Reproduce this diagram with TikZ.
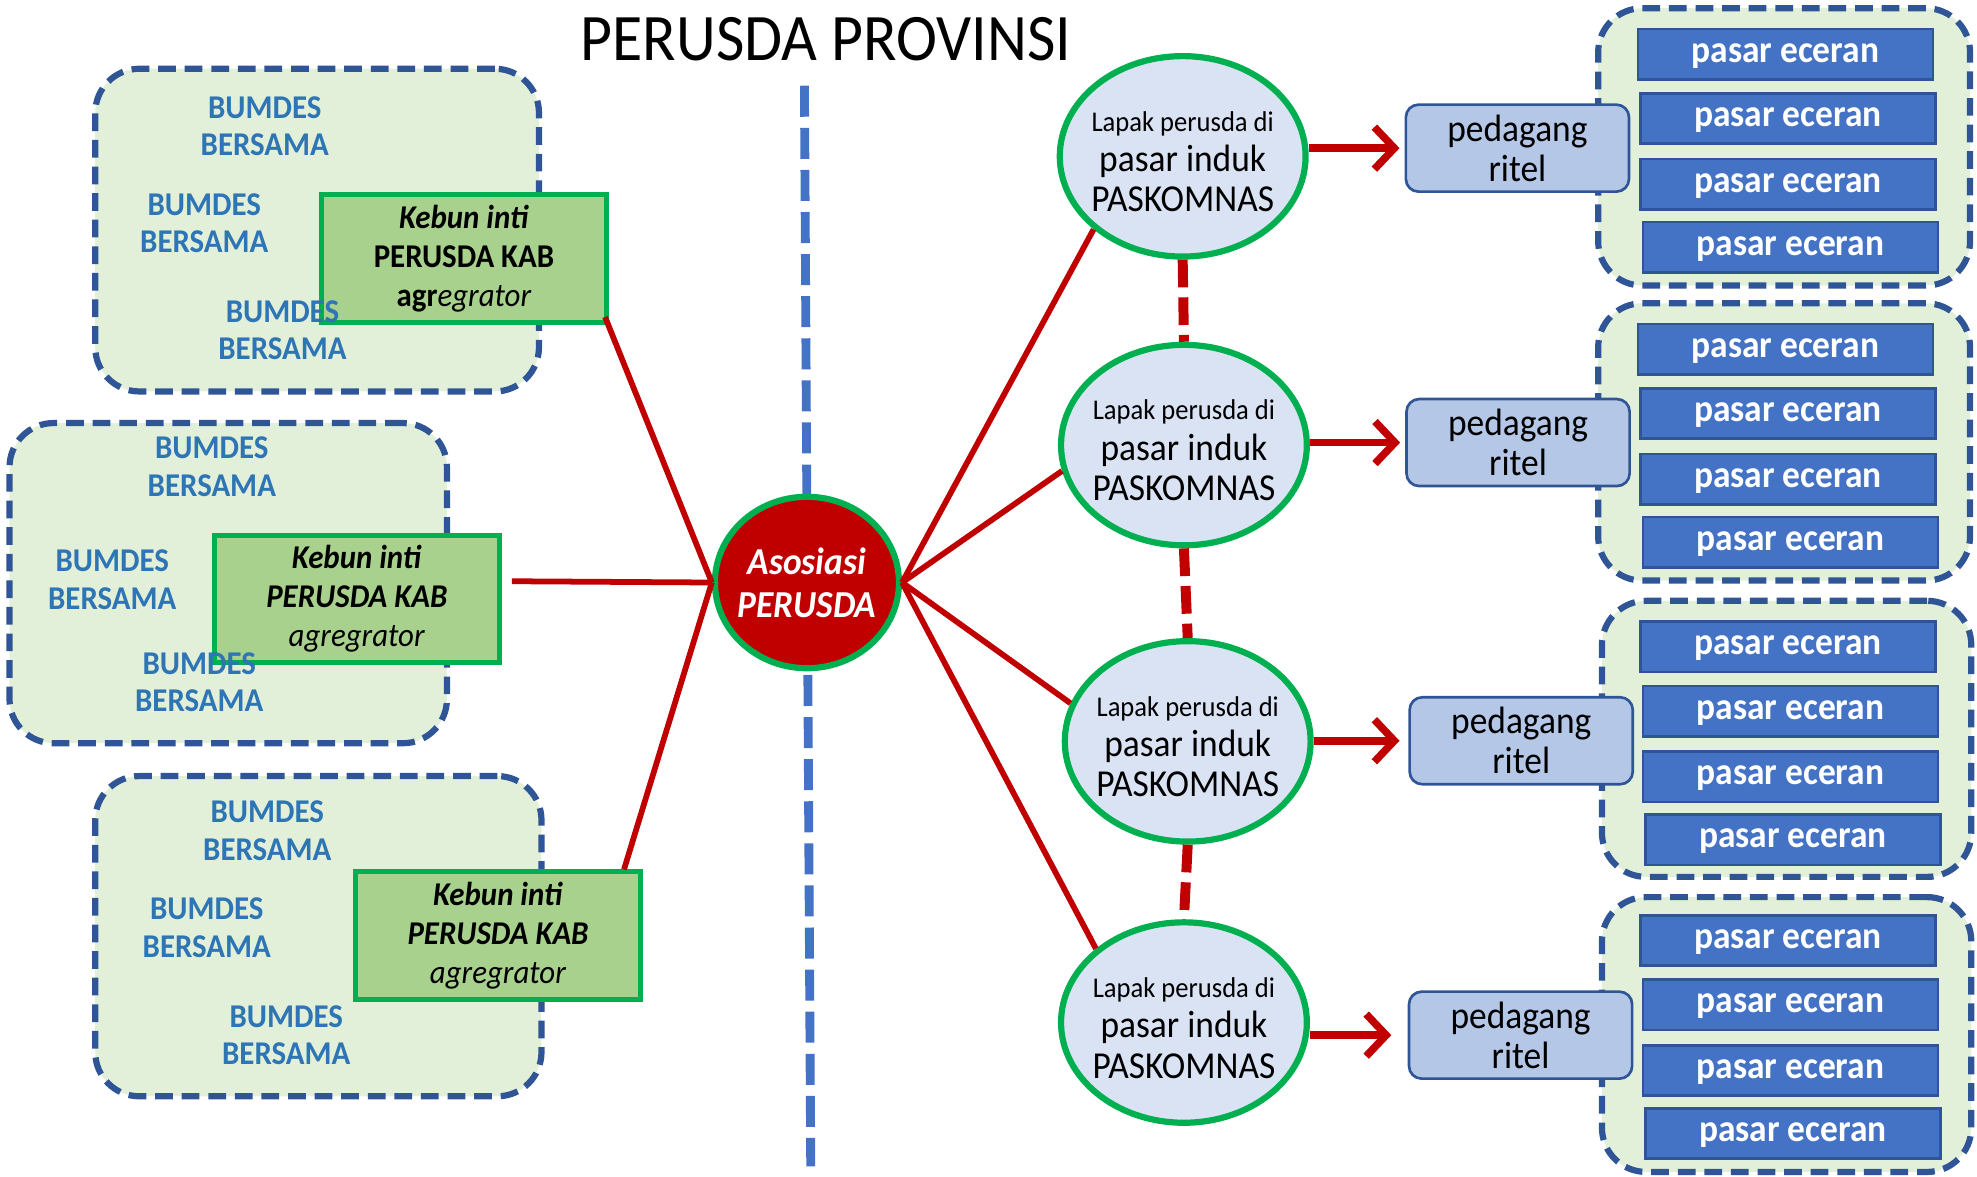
\documentclass[tikz,border=0pt]{standalone}
\usepackage{fontspec}
\setmainfont{Carlito}[FakeStretch=0.93]
\usepackage{tikz}
\usetikzlibrary{shapes.geometric,arrows.meta,positioning,calc}

\definecolor{dashblue}{HTML}{2F5597}
\definecolor{palegreen}{HTML}{E2F0D9}
\definecolor{kebfill}{HTML}{A9D18E}
\definecolor{kebline}{HTML}{00B050}
\definecolor{bumblue}{HTML}{2E75B6}
\definecolor{darkred}{HTML}{C00000}
\definecolor{lapfill}{HTML}{DAE3F3}
\definecolor{pedfill}{HTML}{B4C7E7}
\definecolor{pasfill}{HTML}{4472C4}

\newcommand{\lapaktext}{{\fontsize{12.9}{14}\selectfont\rule{0pt}{13.8pt}Lapak perusda di}\\ pasar induk\\ PASKOMNAS}

\begin{document}
\begin{tikzpicture}[x=0.02cm,y=-0.02cm,
    grp/.style={draw=dashblue,fill=palegreen,line width=2.8pt,dash pattern=on 8pt off 4pt,rounded corners=0.7cm,inner sep=0pt},
    kebun/.style={draw=kebline,fill=kebfill,line width=2.2pt,minimum width=4.52cm,minimum height=2.02cm,inner sep=0pt,align=center,font=\fontsize{15}{17.5}\selectfont},
    bumdes/.style={text=bumblue,align=center,font=\bfseries\fontsize{15}{17}\selectfont},
    assoc/.style={ellipse,draw=kebline,fill=darkred,line width=2.8pt,minimum width=2.92cm,minimum height=2.72cm,inner sep=-1cm,text=white,align=center,font=\bfseries\itshape\fontsize{17.2}{19.3}\selectfont},
    lapak/.style={ellipse,draw=kebline,fill=lapfill,line width=2.8pt,minimum width=3.9cm,minimum height=3.18cm,inner sep=-1cm,align=center,font=\fontsize{17.2}{18.2}\selectfont},
    ped/.style={draw=dashblue,fill=pedfill,line width=1.2pt,rounded corners=0.2cm,minimum width=3.54cm,minimum height=1.38cm,inner sep=0pt,align=center,font=\fontsize{17.2}{18.2}\selectfont},
    pasar/.style={draw=dashblue,fill=pasfill,line width=1.2pt,minimum width=4.68cm,minimum height=0.8cm,inner sep=0pt,text height=0.9em,text depth=0.18em,text=white,font=\bfseries\fontsize{17.2}{18}\selectfont},
    link/.style={draw=darkred,line width=2.6pt},
    arr/.style={draw=darkred,line width=3.4pt,-{Straight Barb[length=9pt,width=19pt]}},
    rdash/.style={draw=darkred,line width=4.5pt,dash pattern=on 12.5pt off 4.5pt},
    axis/.style={draw=pasfill,line width=4pt,dash pattern=on 14pt off 5pt}]
    \useasboundingbox (0,0) rectangle (1568,933.5);

    \node[font=\fontsize{30}{34}\selectfont] (title) at (655,31) {PERUSDA PROVINSI};

    % dashed divider
    \coordinate (vtop) at (638,68);
    \coordinate (vbot) at (643,925);
    \draw[axis] (vtop) -- (vbot);

    % left groups
    \node[grp,minimum width=7.04cm,minimum height=5.12cm] (b1) at (251.5,182.5) {};
    \node[grp,minimum width=6.94cm,minimum height=5.08cm] (b2) at (181,462.5) {};
    \node[grp,minimum width=7.08cm,minimum height=5.08cm] (b3) at (252.5,742.5) {};

    \node[kebun] (k1) at (368,205) {\textbf{\textit{Kebun inti}}\\ \textbf{PERUSDA KAB}\\ \textbf{agr}\textit{egrator}};
    \node[kebun] (k2) at (283,475) {\textbf{\textit{Kebun inti}}\\ \textbf{\textit{PERUSDA KAB}}\\ \textit{agregrator}};
    \node[kebun] (k3) at (395,742) {\textbf{\textit{Kebun inti}}\\ \textbf{\textit{PERUSDA KAB}}\\ \textit{agregrator}};

    \node[bumdes] (u11) at (210,100) {BUMDES\\BERSAMA};
    \node[bumdes] (u12) at (162,177) {BUMDES\\BERSAMA};
    \node[bumdes] (u13) at (224,262) {BUMDES\\BERSAMA};
    \node[bumdes] (u21) at (168,370) {BUMDES\\BERSAMA};
    \node[bumdes] (u22) at (89,460) {BUMDES\\BERSAMA};
    \node[bumdes] (u23) at (158,541) {BUMDES\\BERSAMA};
    \node[bumdes] (u31) at (212,659) {BUMDES\\BERSAMA};
    \node[bumdes] (u32) at (164,736) {BUMDES\\BERSAMA};
    \node[bumdes] (u33) at (227,821) {BUMDES\\BERSAMA};

    % centre
    \node[assoc] (ap) at (640,462) {Asosiasi\\PERUSDA};

    % right groups
    \node[grp,minimum width=5.9cm,minimum height=4.4cm] (r1) at (1415,116.5) {};
    \node[grp,minimum width=5.9cm,minimum height=4.4cm] (r2) at (1415,350.5) {};
    \node[grp,minimum width=5.86cm,minimum height=4.38cm] (r3) at (1417,586) {};
    \node[grp,minimum width=5.86cm,minimum height=4.36cm] (r4) at (1417,820.5) {};

    \foreach \g/\y/\dx in {1/43/0, 2/277/0, 3/513/2, 4/746/2} {
        \foreach \i/\dy/\ddx in {1/0/0, 2/51/2, 3/103/2, 4/153/4} {
            \node[pasar] (e\g\i) at (1416+\dx+\ddx,\y+\dy) {pasar eceran};
        }
    }

    \node[ped] (p1) at (1203.5,117.5) {pedagang\\ritel};
    \node[ped] (p2) at (1204,351) {pedagang\\ritel};
    \node[ped] (p3) at (1206.5,587.5) {pedagang\\ritel};
    \node[ped] (p4) at (1206,821) {pedagang\\ritel};

    \node[lapak] (c1) at (938,124) {\lapaktext};
    \node[lapak] (c2) at (939,353) {\lapaktext};
    \node[lapak] (c3) at (942,588) {\lapaktext};
    \node[lapak] (c4) at (939,811) {\lapaktext};

    % red links
    \coordinate (k2r) at (406,461);
    \draw[link] (ap.west) -- ([shift={(-3,-6)}]k1.south east);
    \draw[link] (ap.west) -- (k2r);
    \draw[link] (ap.west) -- ([xshift=-0.3cm]k3.north east);
    \draw[link] (ap.east) -- (c1.south west);
    \draw[link] (ap.east) -- (c2.192);
    \draw[link] (ap.east) -- (c3.162);
    \draw[link] (ap.east) -- (c4.140);

    \draw[rdash] (c1.south) -- (c2.north);
    \draw[rdash] (c2.south) -- (c3.north);
    \draw[rdash] (c3.south) -- (c4.north);

    % arrows to retail
    \draw[arr] (p1.west -| c1.east) -- ([xshift=-0.08cm]p1.west);
    \draw[arr] (p2.west -| c2.east) -- ([xshift=-0.08cm]p2.west);
    \draw[arr] (p3.west -| c3.east) -- ([xshift=-0.14cm]p3.west);
    \draw[arr] (p4.west -| c4.east) -- ([xshift=-0.26cm]p4.west);
\end{tikzpicture}
\end{document}
